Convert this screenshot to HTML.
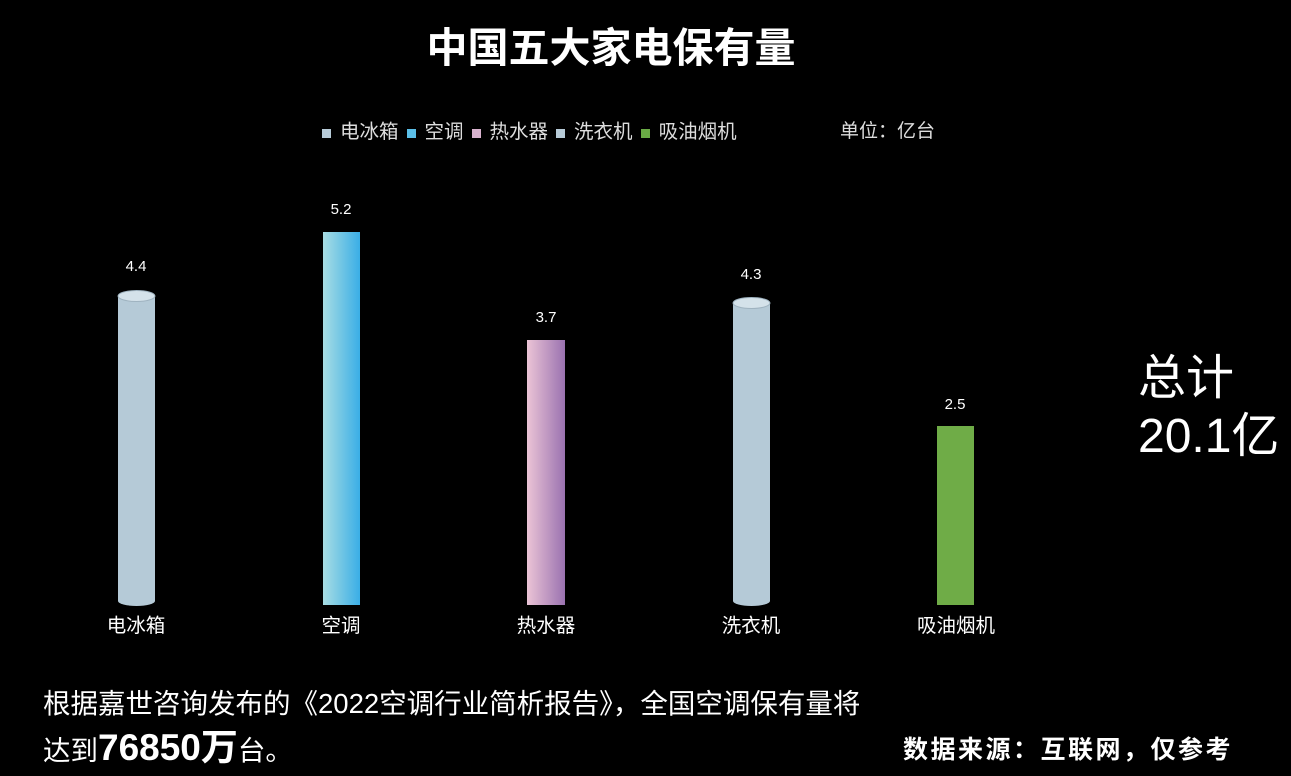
<!DOCTYPE html>
<html><head><meta charset="utf-8"><style>
body{margin:0;width:1291px;height:776px;background:#000;overflow:hidden;position:relative;font-family:"Liberation Sans","Noto Sans CJK SC",sans-serif;color:#fff}
.a{position:absolute;white-space:nowrap}
.sq{display:inline-block;width:9px;height:9px;margin:0 9px 0 8px}
</style></head><body>
<div class="a" style="left:0;width:1222px;text-align:center;top:14px;font-size:41px;font-weight:bold">中国五大家电保有量</div>
<div class="a" style="left:314px;top:115px;font-size:19.5px;color:#ddd">
<span class="sq" style="background:#b7cbd8"></span>电冰箱<span class="sq" style="background:#5bbfe8"></span>空调<span class="sq" style="background:#d9b3cf"></span>热水器<span class="sq" style="background:#b7cbd8"></span>洗衣机<span class="sq" style="background:#6aab45"></span>吸油烟机</div>
<div class="a" style="left:840px;top:116px;font-size:19px;color:#ddd">单位：亿台</div>
<svg class="a" style="left:0;top:0" width="1291" height="776">
<defs>
<linearGradient id="g1"><stop offset="0" stop-color="#a8dde3"/><stop offset="1" stop-color="#3aaee6"/></linearGradient>
<linearGradient id="g2"><stop offset="0" stop-color="#ebc4d6"/><stop offset="1" stop-color="#9a72b0"/></linearGradient>
</defs>
<rect x="118" y="296" width="37" height="305" fill="#b5cad7"/>
<ellipse cx="136.5" cy="601" rx="18.5" ry="5" fill="#b5cad7"/>
<ellipse cx="136.5" cy="296" rx="18.5" ry="5.5" fill="#d4e2ea" stroke="#9fb3c0"/>
<rect x="323" y="232" width="37" height="373" fill="url(#g1)"/>
<rect x="527" y="340" width="38" height="265" fill="url(#g2)"/>
<rect x="733" y="303" width="37" height="298" fill="#b5cad7"/>
<ellipse cx="751.5" cy="601" rx="18.5" ry="5" fill="#b5cad7"/>
<ellipse cx="751.5" cy="303" rx="18.5" ry="5.5" fill="#d4e2ea" stroke="#9fb3c0"/>
<rect x="937" y="426" width="37" height="179" fill="#6fac47"/>
<g font-size="15" fill="#fff" text-anchor="middle" font-family="Liberation Sans,sans-serif">
<text x="136" y="271">4.4</text><text x="341" y="214">5.2</text><text x="546" y="322">3.7</text><text x="751" y="279">4.3</text><text x="955" y="409">2.5</text></g>
<g font-size="19.5" fill="#fff" text-anchor="middle" font-family="Liberation Sans,Noto Sans CJK SC,sans-serif">
<text x="136" y="632">电冰箱</text><text x="341" y="632">空调</text><text x="546" y="632">热水器</text><text x="751" y="632">洗衣机</text><text x="956" y="632">吸油烟机</text></g>
</svg>
<div class="a" style="left:1138px;top:350px;font-size:48px;line-height:58px">总计<br>20.1亿</div>
<div class="a" style="left:43px;top:682px;font-size:27.5px;line-height:44px">根据嘉世咨询发布的《2022空调行业简析报告》，全国空调保有量将<br>达到<b style="font-size:37px">76850万</b>台。</div>
<div class="a" style="left:903px;top:730px;font-size:25px;font-weight:bold;letter-spacing:2.5px">数据来源：互联网，仅参考</div>
</body></html>
